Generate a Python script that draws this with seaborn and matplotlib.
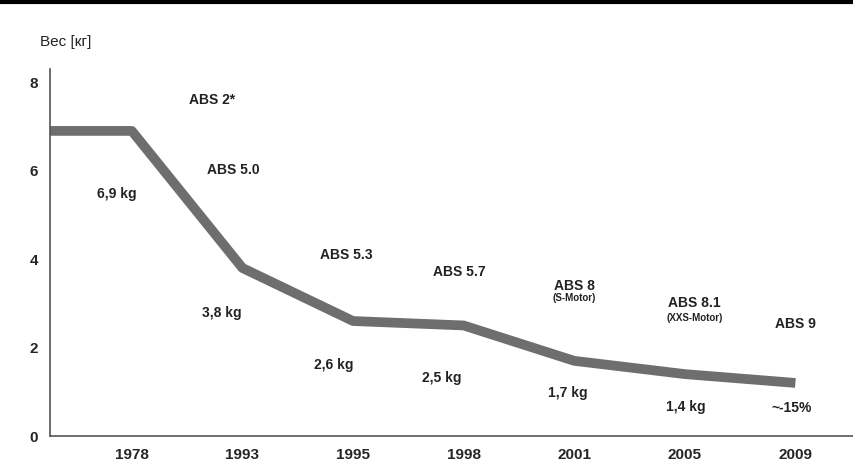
import numpy as np
import pandas as pd
import matplotlib
matplotlib.use("Agg")
import matplotlib.pyplot as plt
import seaborn as sns

# data
years = ["1978", "1993", "1995", "1998", "2001", "2005", "2009"]
weights = [6.9, 3.8, 2.6, 2.5, 1.7, 1.4, 1.2]
weight_labels = ["6,9 kg", "3,8 kg", "2,6 kg", "2,5 kg", "1,7 kg", "1,4 kg", "~-15%"]
names = ["ABS 2*", "ABS 5.0", "ABS 5.3", "ABS 5.7", "ABS 8", "ABS 8.1", "ABS 9"]
subnames = ["", "", "", "", "(S-Motor)", "(XXS-Motor)", ""]

# label placement (pixels in the reference, converted below)
name_px = [(212, 100), (234, 170), (347, 255), (460, 272), (575, 286), (695, 303), (796, 324)]
sub_px = [None, None, None, None, (575, 298), (695, 318), None]
weight_px = [(117, 194), (222, 313), (334, 365), (442, 378), (568, 393), (686, 407), (792, 408)]

def to_data(p):
    return (p[0] - 132) / 110.67, (436 - p[1]) / 44.25

sns.set_style("white")
plt.rcParams['font.family'] = ['Liberation Sans', 'DejaVu Sans']

fig = plt.figure(figsize=(8.54, 4.71), dpi=100)
ax = fig.add_axes([50/854, 35/471, 804/854, 367/471])

df = pd.DataFrame({"pos": np.arange(len(years)), "w": weights})
line_x = np.concatenate([[-0.74], df["pos"]])
line_y = np.concatenate([[weights[0]], df["w"]])
sns.lineplot(x=line_x, y=line_y, ax=ax, color="#6e6e6e", linewidth=7, solid_capstyle="butt")

for i in range(len(years)):
    x, y = to_data(weight_px[i])
    ax.text(x, y, weight_labels[i], ha="center", va="center",
            fontsize=10, fontweight="bold", color="#222222")
    x, y = to_data(name_px[i])
    ax.text(x, y, names[i], ha="center", va="center",
            fontsize=10, fontweight="bold", color="#222222")
    if subnames[i]:
        x, y = to_data(sub_px[i])
        ax.text(x, y, subnames[i], ha="center", va="center",
                fontsize=7, fontweight="bold", color="#222222")

ax.set_xlim(-0.74, 6.53)
ax.set_ylim(0, 8.3)
ax.set_xticks(range(len(years)))
ax.set_xticklabels(years, fontsize=11, fontweight="bold")
ax.set_yticks([0, 2, 4, 6, 8])
ax.set_yticklabels(["0", "2", "4", "6", "8"], fontsize=11, fontweight="bold")
for s in ["top", "right"]:
    ax.spines[s].set_visible(False)
for s in ["left", "bottom"]:
    ax.spines[s].set_color("#555555")
    ax.spines[s].set_linewidth(1.2)
ax.tick_params(axis="both", length=5, color="#555555", direction="out")

fig.text(40/854, 1 - 42/471, "Вес [кг]", fontsize=11, va="center", color="#222222")
fig.add_artist(plt.Line2D([0, 1], [1 - 2/471, 1 - 2/471], color="black", linewidth=3))

fig.savefig("out.png", dpi=100)
